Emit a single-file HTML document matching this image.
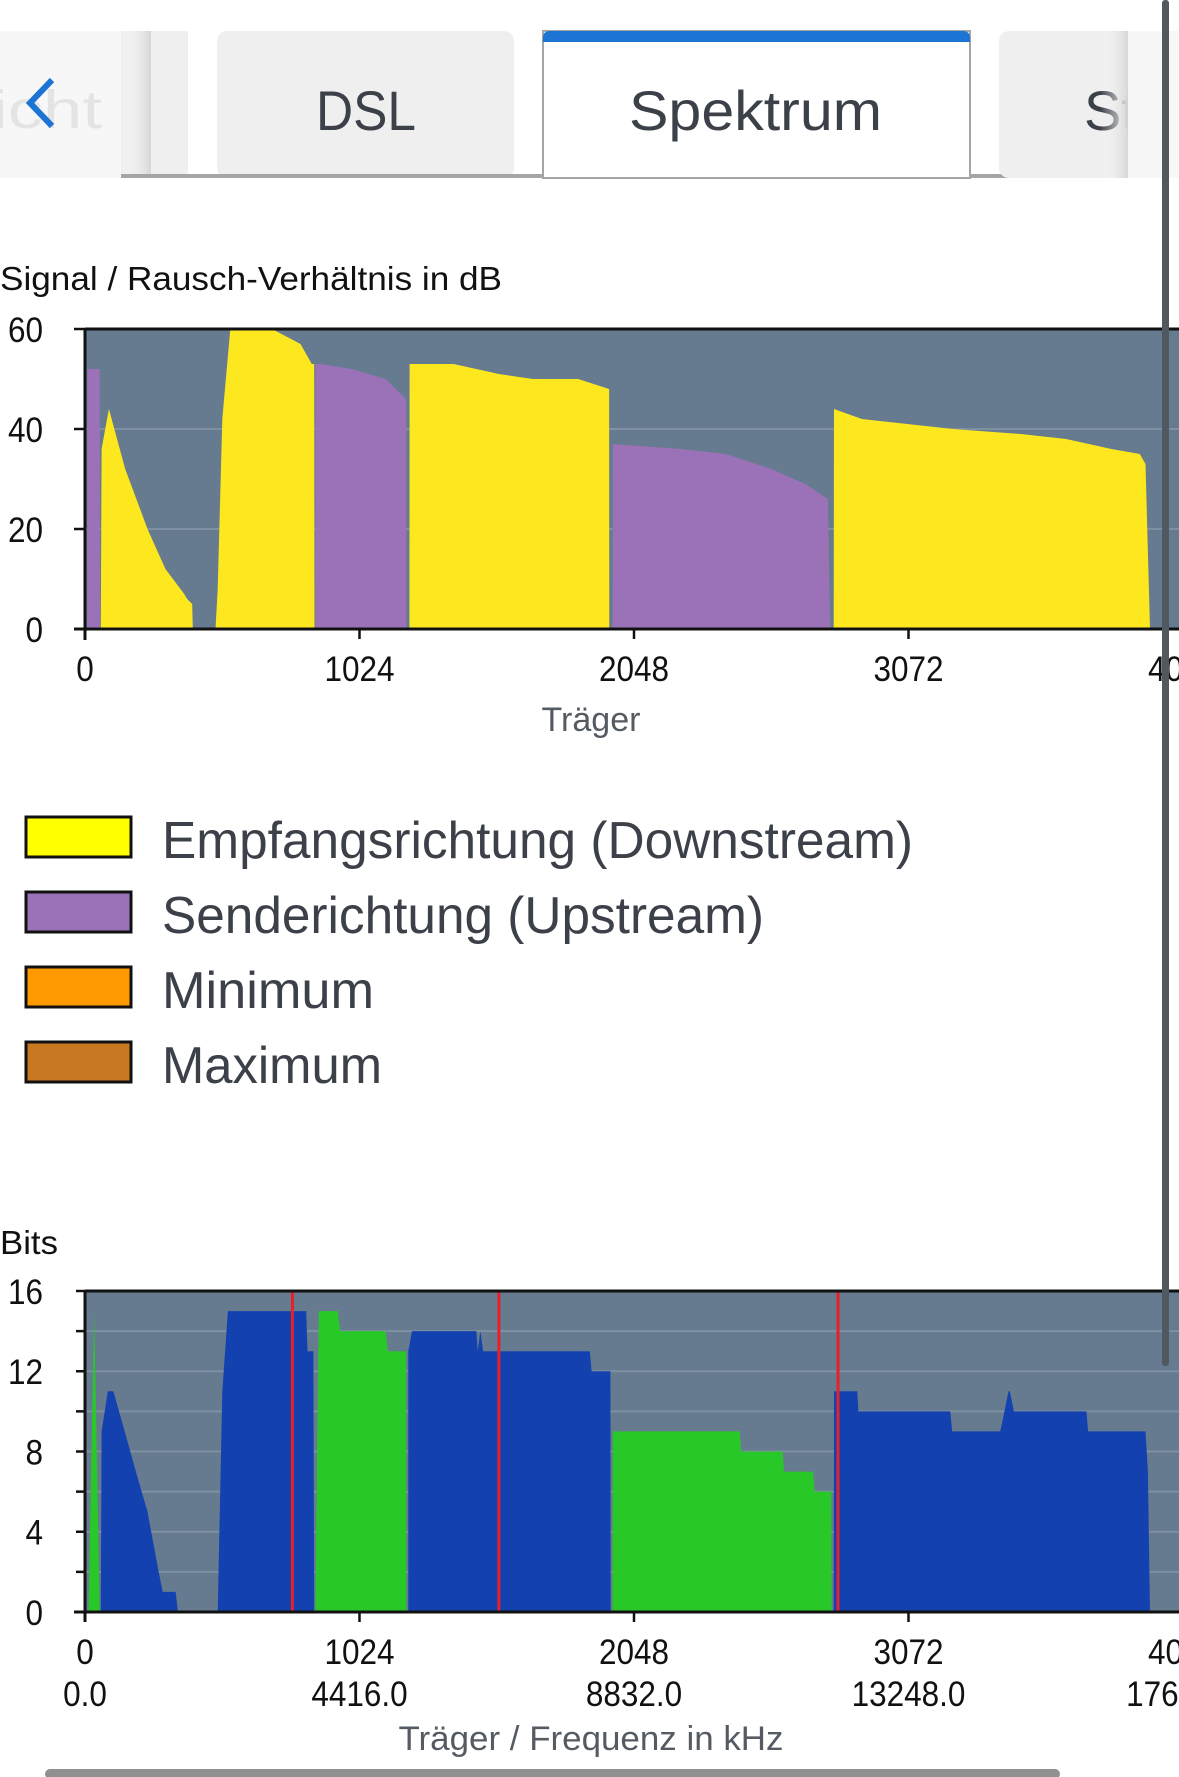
<!DOCTYPE html>
<html><head><meta charset="utf-8"><style>
html,body{margin:0;padding:0;background:#fff;width:1179px;height:1777px;overflow:hidden}
svg{display:block;font-family:"Liberation Sans",sans-serif}
</style></head><body>
<svg id="page" width="1179" height="1777" viewBox="0 0 1179 1777" xmlns="http://www.w3.org/2000/svg">
<defs>
<clipPath id="clipTop"><rect x="85" y="329" width="1094" height="301"/></clipPath>
<clipPath id="clipBot"><rect x="85" y="1291" width="1094" height="321"/></clipPath>
<linearGradient id="shadowL" x1="0" x2="1"><stop offset="0" stop-color="#fff" stop-opacity="0"/><stop offset="1" stop-color="#d6d6d6"/></linearGradient>
</defs>
<g>
<rect x="0" y="176" width="1179" height="2" fill="#eeeeee"/>
<g>
<rect x="0" y="31" width="188" height="147" fill="#f7f7f7"/>
<text x="-8" y="128" font-size="54" fill="#e4e4e4" textLength="110" lengthAdjust="spacingAndGlyphs">icht</text>
<rect x="121" y="31" width="67" height="147" fill="#efefef"/>
<rect x="121" y="31" width="30" height="147" fill="url(#shadowL)"/>
<rect x="121" y="174" width="67" height="4" fill="#a5a5a5"/>
</g>
<path d="M52,80 L30,103 L52,126" fill="none" stroke="#1c74d4" stroke-width="6"/>
<g>
<rect x="217" y="31" width="297" height="147" rx="10" fill="#efefef"/>
<rect x="188" y="174" width="355" height="4" fill="#a5a5a5"/>
<text x="316" y="130" font-size="56" fill="#3b4049" textLength="100" lengthAdjust="spacingAndGlyphs">DSL</text>
</g>
<g>
<rect x="543" y="31" width="427" height="147" fill="#fff" stroke="#a5a5a5" stroke-width="2"/>
<path d="M543,42 L543,38 Q543,31 550,31 L963,31 Q970,31 970,38 L970,42 Z" fill="#1c74d4"/>
<text x="629" y="130" font-size="56" fill="#3b4049" textLength="253" lengthAdjust="spacingAndGlyphs">Spektrum</text>
</g>
<g>
<rect x="970" y="174" width="159" height="4" fill="#a5a5a5"/>
<rect x="999" y="31" width="160" height="147" rx="10" fill="#efefef"/>
<text x="1084" y="130" font-size="56" fill="#3b4049">St</text>
<rect x="1128" y="31" width="51" height="147" fill="#f7f7f7"/>
<rect x="1100" y="31" width="28" height="147" fill="url(#shadowL)"/>
</g>
</g>
<text x="0" y="290" font-size="33" fill="#111" textLength="502" lengthAdjust="spacingAndGlyphs">Signal / Rausch-Verhältnis in dB</text>
<g id="topChart"></g>
<g>
<g><rect x="26" y="817" width="105" height="40" fill="#ffff00" stroke="#111" stroke-width="3"/><text x="162" y="858" font-size="52" fill="#3b4049" textLength="751" lengthAdjust="spacingAndGlyphs">Empfangsrichtung (Downstream)</text></g>
<g><rect x="26" y="892" width="105" height="40" fill="#9b72b8" stroke="#111" stroke-width="3"/><text x="162" y="933" font-size="52" fill="#3b4049" textLength="602" lengthAdjust="spacingAndGlyphs">Senderichtung (Upstream)</text></g>
<g><rect x="26" y="967" width="105" height="40" fill="#ff9900" stroke="#111" stroke-width="3"/><text x="162" y="1008" font-size="52" fill="#3b4049" textLength="212" lengthAdjust="spacingAndGlyphs">Minimum</text></g>
<g><rect x="26" y="1042" width="105" height="40" fill="#c87820" stroke="#111" stroke-width="3"/><text x="162" y="1083" font-size="52" fill="#3b4049" textLength="220" lengthAdjust="spacingAndGlyphs">Maximum</text></g>
</g>
<text x="0" y="1254" font-size="33" fill="#111" textLength="58" lengthAdjust="spacingAndGlyphs">Bits</text>
<g id="botChart"></g>
<rect x="1162" y="0" width="7" height="1366" rx="3" fill="#505860"/>
<rect x="45" y="1769" width="1015" height="10" rx="5" fill="#909090"/>
</svg>
<script>
// ---- data ----
const xTicks = [0, 1024, 2048, 3072, 4096];
const freqTicks = ["0.0", "4416.0", "8832.0", "13248.0", "17664.0"];
const snrTicks = [0, 20, 40, 60];
const bitsTicks = [0, 4, 8, 12, 16];
const dsSnrCarriers = [
 [59, 62, 89, 150, 233, 300, 370, 381, 400, 402],
 [487, 495, 512, 542, 698, 804, 846, 855, 856],
 [1210, 1211, 1375, 1544, 1671, 1840, 1955, 1956],
 [2793, 2794, 2898, 3068, 3237, 3491, 3660, 3829, 3935, 3956, 3973]
];
const dsSnrValues = [
 [0, 36, 44, 32, 20, 12, 7, 6, 5, 0],
 [0, 8, 42, 60, 60, 57, 53, 53, 0],
 [0, 53, 53, 51, 50, 50, 48, 0],
 [0, 44, 42, 41, 40, 39, 38, 36, 35, 33, 0]
];
const usSnrCarriers = [
 [8, 9, 55, 56],
 [859, 860, 880, 994, 1121, 1198, 1199],
 [1968, 1969, 2222, 2391, 2560, 2687, 2771, 2780]
];
const usSnrValues = [
 [0, 52, 52, 0],
 [0, 53, 53, 52, 50, 46, 0],
 [0, 37, 36, 35, 32, 29, 26, 0]
];
const dsBitsCarriers = [
 [59, 62, 85, 106, 148, 190, 233, 275, 290, 338, 347],
 [495, 512, 533, 825, 830, 852, 855],
 [1206, 1220, 1460, 1465, 1475, 1485, 1883, 1890, 1960, 1961],
 [2793, 2794, 2881, 2885, 3228, 3235, 3414, 3430, 3445, 3450, 3465, 3470, 3736, 3742, 3956, 3965, 3973]
];
const dsBitsValues = [
 [0, 9, 11, 11, 9, 7, 5, 2, 1, 1, 0],
 [0, 11, 15, 15, 13, 13, 0],
 [13, 14, 14, 13, 14, 13, 13, 12, 12, 0],
 [0, 11, 11, 10, 10, 9, 9, 10, 11, 11, 10, 10, 10, 9, 9, 7, 0]
];
const usBitsCarriers = [
 [13, 34, 55],
 [859, 872, 943, 952, 1121, 1130, 1198, 1199],
 [1968, 1969, 2442, 2448, 2602, 2608, 2716, 2722, 2784, 2785]
];
const usBitsValues = [
 [0, 15, 0],
 [0, 15, 15, 14, 14, 13, 13, 0],
 [0, 9, 9, 8, 8, 7, 7, 6, 6, 0]
];
const markerCarriers = [774, 1544, 2809];

const NS = "http://www.w3.org/2000/svg";
const X0 = 85, PX_PER_CARRIER = 274.5 / 1024;
const xs = c => X0 + c * PX_PER_CARRIER;
const ySnr = v => 629 - v * 5;
const yBits = v => 1612 - v * (321 / 16);
function mk(tag, attrs, parent) {
  const e = document.createElementNS(NS, tag);
  for (const k in attrs) e.setAttribute(k, attrs[k]);
  parent.appendChild(e);
  return e;
}
function areas(g, cArr, vArr, yf, fill, name) {
  cArr.forEach((cs, i) => {
    let pts = cs.map((c, j) => xs(c).toFixed(1) + "," + yf(vArr[i][j]).toFixed(1));
    pts.push(xs(cs[cs.length - 1]).toFixed(1) + "," + yf(0));
    pts.unshift(xs(cs[0]).toFixed(1) + "," + yf(0));
    const p = mk("polygon", { points: pts.join(" "), fill: fill }, g);
    
    
  });
}
function label(g, x, y, txt, anchor, name) {
  const t = mk("text", { x: x, y: y, "font-size": 35, fill: "#111", "text-anchor": anchor, transform: "translate(" + x + "," + y + ") scale(0.9,1) translate(" + (-x) + "," + (-y) + ")" }, g);
  t.textContent = txt;
  
  
  return t;
}
function xAxis(g, yBase, withFreq) {
  xTicks.forEach((t, i) => {
    const x = xs(t);
    mk("line", { x1: x, x2: x, y1: yBase, y2: yBase + 10, stroke: "#111", "stroke-width": 2.5 }, g);
    label(g, x, yBase + 52, String(t), "middle", "x-tick-label");
    if (withFreq) label(g, x, yBase + 94, freqTicks[i], "middle", "freq-tick-label");
  });
}
(function () {
  const g = document.getElementById("topChart");
  const plot = mk("g", { "clip-path": "url(#clipTop)" }, g);
  mk("rect", { x: 85, y: 329, width: 1100, height: 301, fill: "#667b8f" }, plot);
  [20, 40].forEach(v => mk("line", { x1: 85, x2: 1185, y1: ySnr(v), y2: ySnr(v), stroke: "#7e90a2", "stroke-width": 2 }, plot));
  areas(plot, usSnrCarriers, usSnrValues, ySnr, "#9b72b8", "upstream-snr-area");
  areas(plot, dsSnrCarriers, dsSnrValues, ySnr, "#fde81f", "downstream-snr-area");
  mk("line", { x1: 85, x2: 1179, y1: 329, y2: 329, stroke: "#111", "stroke-width": 3 }, g);
  mk("line", { x1: 74, x2: 1179, y1: 629, y2: 629, stroke: "#111", "stroke-width": 3 }, g);
  mk("line", { x1: 85, x2: 85, y1: 329, y2: 640, stroke: "#111", "stroke-width": 3 }, g);
  snrTicks.forEach(v => {
    mk("line", { x1: 74, x2: 85, y1: ySnr(v), y2: ySnr(v), stroke: "#111", "stroke-width": 2.5 }, g);
    label(g, 43, ySnr(v) + 13, String(v), "end", "snr-y-tick-label");
  });
  xAxis(g, 629, false);
  const tt = mk("text", { x: 591, y: 731, "font-size": 34, fill: "#555b63", "text-anchor": "middle" }, g);
  tt.textContent = "Träger";
  
  
})();
(function () {
  const g = document.getElementById("botChart");
  const plot = mk("g", { "clip-path": "url(#clipBot)" }, g);
  mk("rect", { x: 85, y: 1291, width: 1100, height: 321, fill: "#667b8f" }, plot);
  for (let v = 2; v < 16; v += 2) mk("line", { x1: 85, x2: 1185, y1: yBits(v), y2: yBits(v), stroke: "#7e90a2", "stroke-width": 2 }, plot);
  areas(plot, usBitsCarriers, usBitsValues, yBits, "#29c829", "upstream-bits-area");
  areas(plot, dsBitsCarriers, dsBitsValues, yBits, "#1342b0", "downstream-bits-area");
  markerCarriers.forEach(c => {
    const l = mk("line", { x1: xs(c), x2: xs(c), y1: 1291, y2: 1612, stroke: "#e8202a", "stroke-width": 3 }, plot);
    
    
  });
  mk("line", { x1: 85, x2: 1179, y1: 1291, y2: 1291, stroke: "#111", "stroke-width": 3 }, g);
  mk("line", { x1: 74, x2: 1179, y1: 1612, y2: 1612, stroke: "#111", "stroke-width": 3 }, g);
  mk("line", { x1: 85, x2: 85, y1: 1291, y2: 1622, stroke: "#111", "stroke-width": 3 }, g);
  for (let v = 0; v <= 16; v += 2) mk("line", { x1: 76, x2: 85, y1: yBits(v), y2: yBits(v), stroke: "#111", "stroke-width": 2.5 }, g);
  bitsTicks.forEach(v => label(g, 43, yBits(v) + 13, String(v), "end", "bits-y-tick-label"));
  xAxis(g, 1612, true);
  const tt = mk("text", { x: 591, y: 1750, "font-size": 34, fill: "#555b63", "text-anchor": "middle", textLength: 385, lengthAdjust: "spacingAndGlyphs" }, g);
  tt.textContent = "Träger / Frequenz in kHz";
  
  
})();
</script>
</body></html>
